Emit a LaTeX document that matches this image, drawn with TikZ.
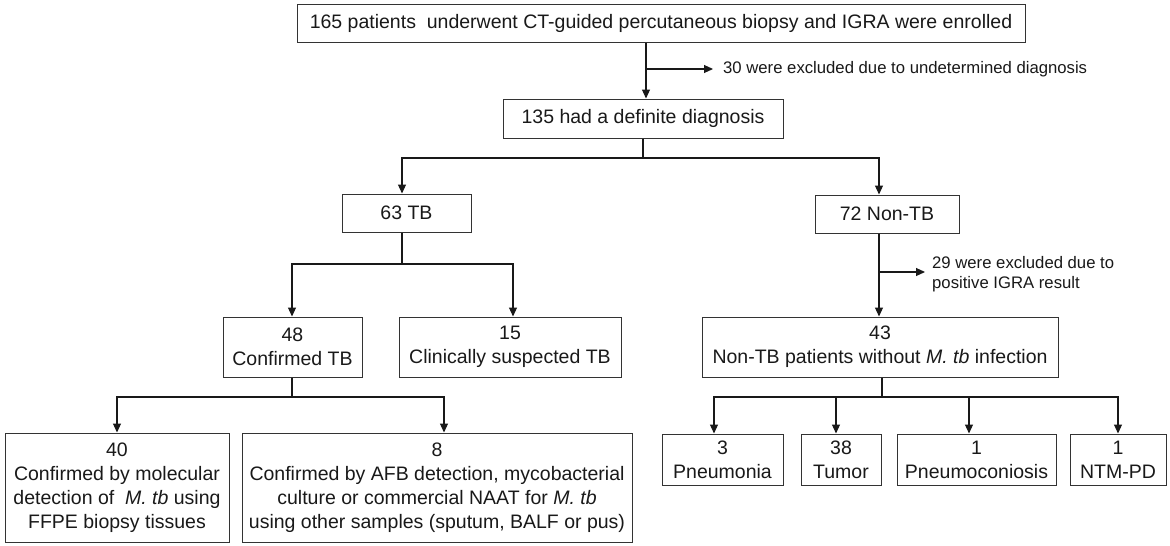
\documentclass[tikz,border=0pt]{standalone}
\usepackage{fontspec}
\setmainfont{Liberation Sans}
\usetikzlibrary{arrows.meta}
\begin{document}
\begin{tikzpicture}[x=1pt,y=-1pt,
  box/.style={draw=black!80, line width=1pt, inner sep=0pt, align=center, font=\fontsize{19.5}{24}\selectfont, text=black!90},
  note/.style={inner sep=0pt, align=left, font=\fontsize{16.7}{20}\selectfont, text=black!90},
  ln/.style={line width=1.1pt, draw=black!90},
  arr/.style={ln, -{Triangle[length=9pt,width=8pt]}}]
\useasboundingbox (0,0) rectangle (1170,546);
\fill[white] (0,0) rectangle (1170,546);
% boxes
\node[box, minimum width=728pt, minimum height=38pt] (top) at (661,23) {165 patients\ \ underwent CT-guided percutaneous biopsy and IGRA were enrolled};
\node[box, minimum width=280pt, minimum height=39pt] (b135) at (643,118.5) {135 had a definite diagnosis};
\node[box, minimum width=129pt, minimum height=38pt] (tb63) at (406.5,213) {63 TB};
\node[box, minimum width=144pt, minimum height=38pt] (nt72) at (887,214) {72 Non-TB};
\node[box, minimum width=139pt, minimum height=60pt] (c48) at (292.5,347) {48\\Confirmed TB};
\node[box, minimum width=222pt, minimum height=60pt] (s15) at (510,347) {15\\Clinically suspected TB};
\node[box, minimum width=356pt, minimum height=60pt] (n43) at (880,347) {43\\Non-TB patients without \textit{M. tb} infection};
\node[box, minimum width=224pt, minimum height=109pt] (m40) at (117,487.5) {40\\Confirmed by molecular\\detection of\ \ \textit{M. tb} using\\FFPE biopsy tissues};
\node[box, minimum width=390pt, minimum height=109pt] (a8) at (437,487.5) {8\\Confirmed by AFB detection, mycobacterial\\culture or commercial NAAT for \textit{M. tb}\\using other samples (sputum, BALF or pus)};
\node[box, minimum width=121pt, minimum height=51pt] (pn3) at (722.5,459.5) {3\\Pneumonia};
\node[box, minimum width=80pt, minimum height=51pt] (tu38) at (841,459.5) {38\\Tumor};
\node[box, minimum width=159pt, minimum height=51pt] (pc1) at (976.5,459.5) {1\\Pneumoconiosis};
\node[box, minimum width=96pt, minimum height=51pt] (ntm) at (1118,459.5) {1\\NTM-PD};
% side notes
\node[note, anchor=west] (ex1) at (723,69) {30 were excluded due to undetermined diagnosis};
\node[note, anchor=west] (ex2) at (932,274) {29 were excluded due to\\positive IGRA result};
% junctions
\coordinate (j0) at (646,69);
\coordinate (j1) at (643,158);
\coordinate (xL) at (402,0);
\coordinate (xR) at (879,0);
\coordinate (j2) at (402,264);
\coordinate (x48) at (292,0);
\coordinate (x15) at (513,0);
\coordinate (j3) at (879,272);
\coordinate (j4) at (292,397);
\coordinate (x40) at (117,0);
\coordinate (x8) at (444,0);
\coordinate (j5) at (882,397);
\coordinate (xp) at (714,0);
\coordinate (xt) at (836,0);
\coordinate (xc) at (969,0);
\coordinate (xn) at (1118,0);
% connectors
\draw[arr] (top.south -| j0) -- (b135.north -| j0);
\draw[arr, shorten >=10pt] (j0) -- (ex1.west |- j0);
\draw[ln] (b135.south -| j1) -- (j1);
\draw[arr] (j1) -| (tb63.north -| xL);
\draw[arr] (j1) -| (nt72.north -| xR);
\draw[ln] (tb63.south -| j2) -- (j2);
\draw[arr] (j2) -| (c48.north -| x48);
\draw[arr] (j2) -| (s15.north -| x15);
\draw[arr] (nt72.south -| xR) -- (n43.north -| xR);
\draw[arr, shorten >=7pt] (j3) -- (ex2.west |- j3);
\draw[ln] (c48.south -| j4) -- (j4);
\draw[arr] (j4) -| (m40.north -| x40);
\draw[arr] (j4) -| (a8.north -| x8);
\draw[ln] (n43.south -| j5) -- (j5);
\draw[arr] (j5) -| (pn3.north -| xp);
\draw[arr] (j5) -| (tu38.north -| xt);
\draw[arr] (j5) -| (pc1.north -| xc);
\draw[arr] (j5) -| (ntm.north -| xn);
\end{tikzpicture}
\end{document}
